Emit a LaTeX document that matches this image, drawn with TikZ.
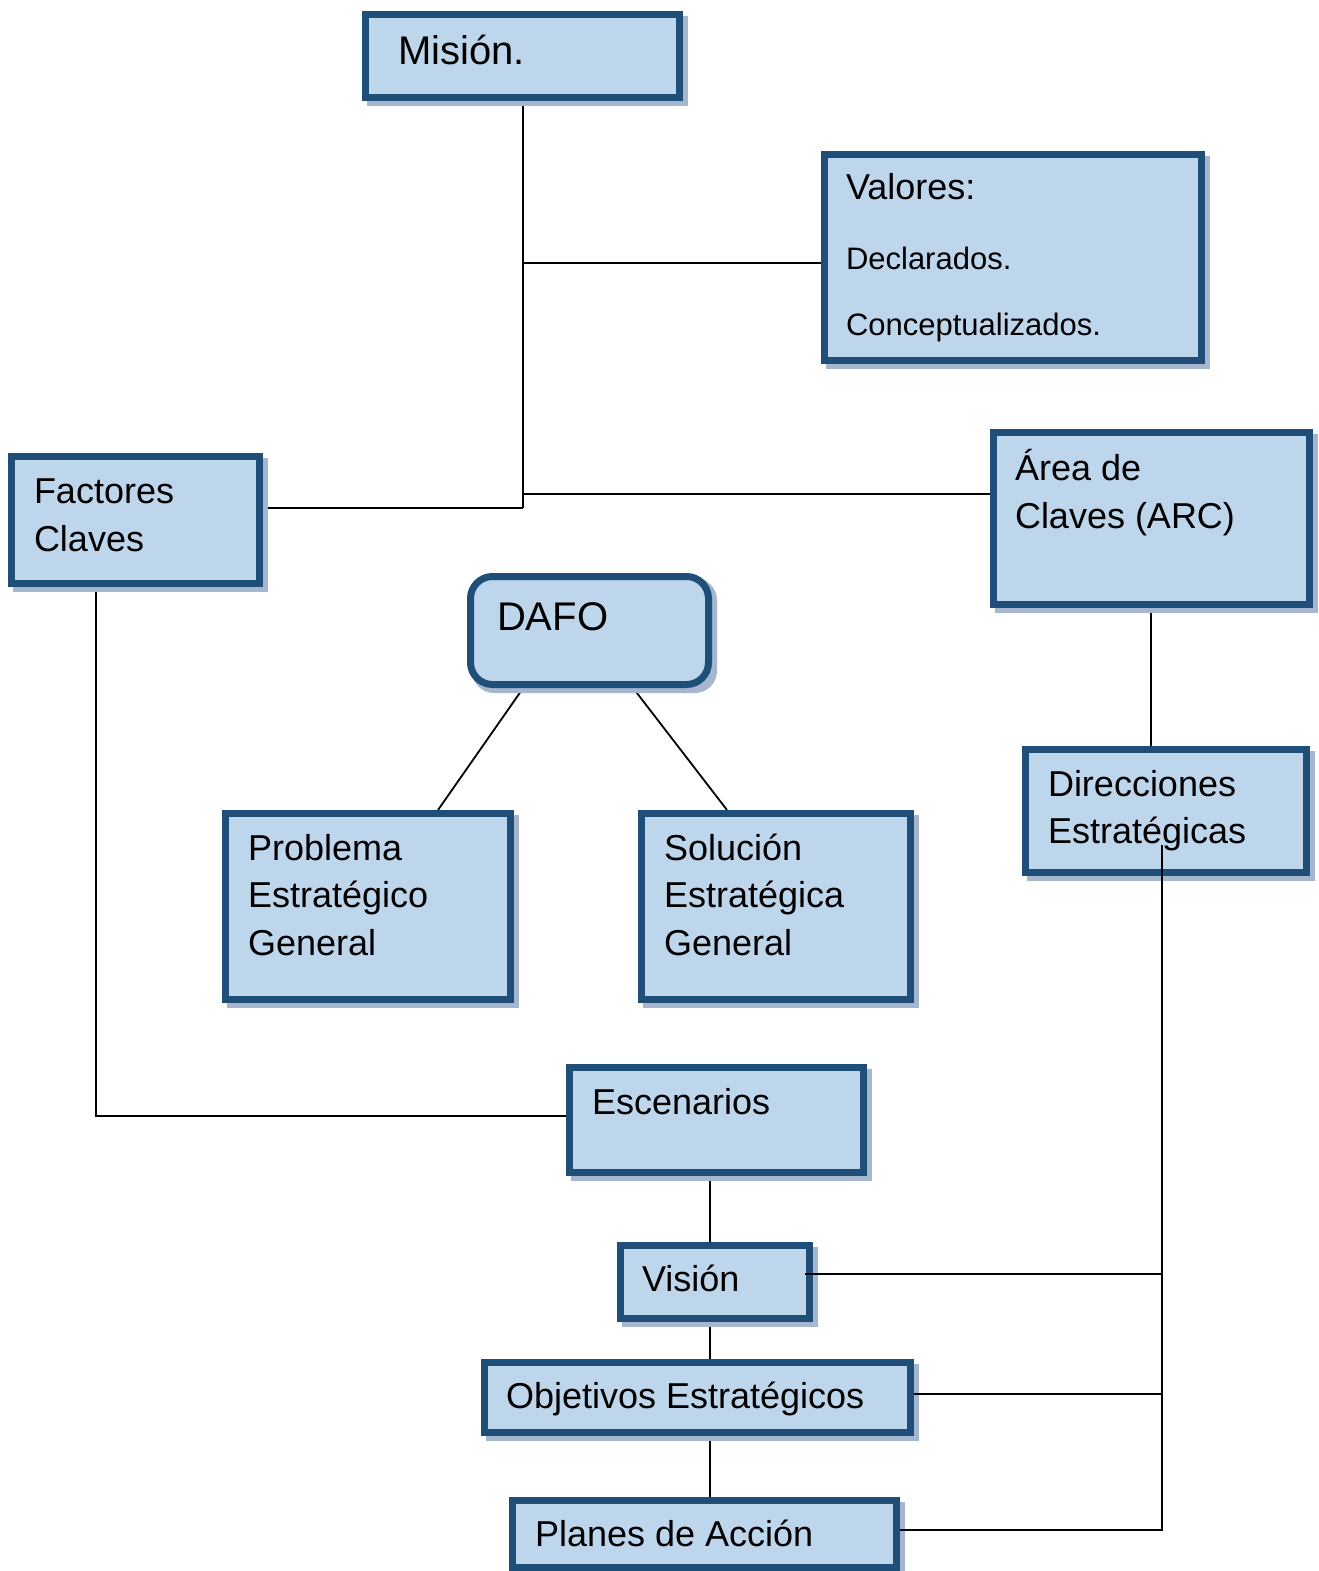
\documentclass[tikz,border=0pt]{standalone}
\usepackage{fontspec}
\setmainfont{Liberation Sans}
\usetikzlibrary{calc}
\definecolor{bordc}{RGB}{31,78,121}
\definecolor{fillc}{RGB}{190,214,236}
\definecolor{shadc}{RGB}{165,182,206}
\tikzset{
  boxst/.style={draw=bordc, fill=fillc, line width=7pt, rectangle, inner sep=0pt, outer sep=0pt},
  txt/.style={anchor=base west, inner sep=0pt, outer sep=0pt, font=\fontsize{36}{43}\selectfont},
  bigtxt/.style={anchor=base west, inner sep=0pt, outer sep=0pt, font=\fontsize{40}{48}\selectfont},
  smalltxt/.style={anchor=base west, inner sep=0pt, outer sep=0pt, font=\fontsize{31}{37}\selectfont},
  conn/.style={draw=black, line width=1.8pt},
}
% #1 name, #2 x1, #3 y1, #4 x2, #5 y2 (outer edges, pixel coords, y downward), #6 corner radius
\newcommand{\bx}[6]{%
  \fill[shadc,rounded corners=#6] (#2+5,-#3-5) rectangle (#4+5,-#5-5);
  \node[boxst, rounded corners=#6, minimum width=#4-#2-7, minimum height=#5-#3-7] (#1) at ({(#2+#4)/2},{-(#3+#5)/2}) {};
}
\begin{document}
\begin{tikzpicture}[x=1pt,y=1pt]
\useasboundingbox (0,0) rectangle (1319,-1571);

% helper coordinates for connectors
\coordinate (mtop) at (523,-101);
\coordinate (jval) at (523,-263);
\coordinate (jbot) at (523,-508);
\coordinate (jarc) at (523,-494);
\coordinate (fkb) at (96,-587);
\coordinate (fke) at (96,-1116);
\coordinate (dafoL) at (526,-684);
\coordinate (dafoR) at (630,-684);
\coordinate (probT) at (438,-810);
\coordinate (solT) at (727,-810);
\coordinate (arcB) at (1151,-607);
\coordinate (dirT) at (1151,-746);
\coordinate (dirIn) at (1162,-845);
\coordinate (busV) at (1162,-1274);
\coordinate (busO) at (1162,-1394);
\coordinate (busP) at (1162,-1530);
\coordinate (visIn) at (805,-1274);

% connectors drawn below boxes
\draw[conn] (mtop) -- (jbot);
\draw[conn] (jval) -- (821,-263) coordinate (valL);
\draw[conn] (jbot) -- (263,-508) coordinate (fkR);
\draw[conn] (jarc) -- (990,-494) coordinate (arcL);
\draw[conn] (fkb) -- (fke) -- (566,-1116) coordinate (escL);
\draw[conn] (dafoL) -- (probT);
\draw[conn] (dafoR) -- (solT);
\draw[conn] (arcB) -- (dirT);
\draw[conn] (710,-1176) coordinate (escB) -- (710,-1242) coordinate (visT);
\draw[conn] (710,-1322) coordinate (visB) -- (710,-1359) coordinate (objT);
\draw[conn] (710,-1436) coordinate (objB) -- (710,-1497) coordinate (plaT);

% boxes
\bx{mision}{362}{11}{683}{101}{0pt}
\bx{valores}{821}{151}{1205}{364}{0pt}
\bx{factores}{8}{453}{263}{587}{0pt}
\bx{arc}{990}{429}{1313}{608}{0pt}
\bx{dafo}{467}{573}{712}{688}{22pt}
\bx{dir}{1022}{746}{1310}{876}{0pt}
\bx{problema}{222}{810}{514}{1003}{0pt}
\bx{solucion}{638}{810}{914}{1003}{0pt}
\bx{escenarios}{566}{1064}{867}{1176}{0pt}
\bx{vision}{617}{1242}{813}{1322}{0pt}
\bx{objetivos}{481}{1359}{914}{1436}{0pt}
\bx{planes}{509}{1497}{900}{1571}{0pt}

% texts
\node[bigtxt] (tMision) at (398,-65) {Misión.};
\node[txt] (tVal) at (846,-199) {Valores:};
\node[smalltxt] (tDecl) at (846,-269) {Declarados.};
\node[smalltxt] (tConc) at (846,-335) {Conceptualizados.};
\node[txt] (tFac1) at (34,-503) {Factores};
\node[txt] (tFac2) at (34,-551) {Claves};
\node[txt] (tArc1) at (1015,-480) {Área de};
\node[txt] (tArc2) at (1015,-528) {Claves (ARC)};
\node[bigtxt] (tDafo) at (497,-630) {DAFO};
\node[txt] (tDir1) at (1048,-796) {Direcciones};
\node[txt] (tDir2) at (1048,-843) {Estratégicas};
\node[txt] (tPro1) at (248,-860) {Problema};
\node[txt] (tPro2) at (248,-907) {Estratégico};
\node[txt] (tPro3) at (248,-955) {General};
\node[txt] (tSol1) at (664,-860) {Solución};
\node[txt] (tSol2) at (664,-907) {Estratégica};
\node[txt] (tSol3) at (664,-955) {General};
\node[txt] (tEsc) at (592,-1114) {Escenarios};
\node[txt] (tVis) at (642,-1291) {Visión};
\node[txt] (tObj) at (506,-1408) {Objetivos Estratégicos};
\node[txt] (tPla) at (535,-1546) {Planes de Acción};

% connectors drawn over boxes and text (right bus)
\draw[conn] (dirIn) -- (busP) -- (900,-1530) coordinate (plaR);
\draw[conn] (visIn) -- (busV);
\draw[conn] (914,-1394) coordinate (objR) -- (busO);
\end{tikzpicture}
\end{document}
